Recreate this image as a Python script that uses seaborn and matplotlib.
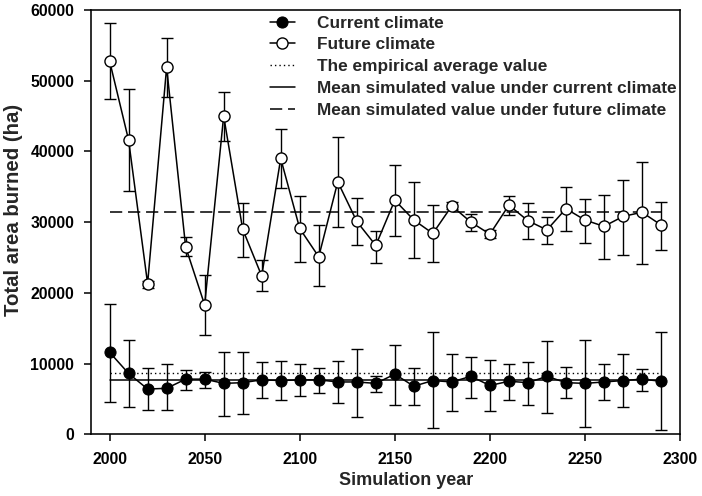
import numpy as np
import pandas as pd
import matplotlib
matplotlib.use("Agg")
import matplotlib.pyplot as plt
import seaborn as sns

years = list(range(2000, 2300, 10))

future_mean = [52800, 41600, 21300, 51900, 26500, 18300, 45000, 29000, 22400, 39000,
               29100, 25100, 35700, 30100, 26700, 33100, 30300, 28400, 32300, 30000,
               28300, 32400, 30200, 28900, 31900, 30300, 29400, 30800, 31400, 29600]
future_upper = [58200, 48800, 21700, 56000, 27900, 22500, 48400, 32700, 24700, 43100,
                33700, 29600, 42000, 33400, 28800, 38100, 35700, 32400, 32900, 31200,
                28900, 33700, 32700, 30700, 34900, 33300, 33900, 36000, 38500, 32900]
future_lower = [47400, 34400, 20700, 47700, 25200, 14000, 41500, 25000, 20300, 34800,
                24400, 20900, 29300, 26700, 24200, 28100, 24900, 24400, 31800, 28800,
                27700, 31000, 27600, 26900, 28700, 27100, 24800, 25400, 24100, 26100]

current_mean = [11600, 8600, 6400, 6500, 7800, 7800, 7200, 7300, 7700, 7600,
                7700, 7700, 7400, 7400, 7200, 8500, 6800, 7600, 7400, 8200,
                6900, 7500, 7300, 8200, 7300, 7200, 7400, 7600, 7800, 7500]
current_upper = [18400, 13300, 9400, 9900, 9100, 8800, 11700, 11600, 10200, 10300,
                 9900, 9400, 10400, 12100, 8300, 12600, 9400, 14400, 11400, 11000,
                 10500, 10000, 10200, 13200, 9500, 13300, 10000, 11400, 9200, 14400]
current_lower = [4600, 3900, 3400, 3400, 6300, 6500, 2600, 2900, 5100, 4800,
                 5400, 5900, 4400, 2500, 6000, 4100, 4200, 850, 3300, 5200,
                 3300, 4900, 4200, 3000, 5100, 1100, 4800, 3900, 6100, 600]

empirical_avg = 8730
mean_current = 7640
mean_future = 31450

labels = ["Current climate", "Future climate", "The empirical average value",
          "Mean simulated value under current climate",
          "Mean simulated value under future climate"]

sns.set_style("ticks")
plt.rcParams['font.family'] = ['Liberation Sans', 'DejaVu Sans']
plt.rcParams['font.weight'] = 'bold'

fig = plt.figure(figsize=(7.02, 4.96), dpi=100)
ax = fig.add_axes([0.129, 0.1244, 0.8397, 0.8555])

df_f = pd.DataFrame({"year": years, "val": future_mean})
df_c = pd.DataFrame({"year": years, "val": current_mean})

yr = np.array(years)
fm = np.array(future_mean); cm = np.array(current_mean)
ax.errorbar(yr, fm, yerr=[fm - np.array(future_lower), np.array(future_upper) - fm],
            fmt='none', ecolor='black', elinewidth=1.0, capsize=4.6, capthick=1.0, zorder=1)
ax.errorbar(yr, cm, yerr=[cm - np.array(current_lower), np.array(current_upper) - cm],
            fmt='none', ecolor='black', elinewidth=1.0, capsize=4.6, capthick=1.0, zorder=1)

ax.plot([years[0], years[-1]], [empirical_avg, empirical_avg], color='black', ls=(0, (1, 2.2)),
        lw=1, label=labels[2], zorder=2)
ax.plot([years[0], years[-1]], [mean_current, mean_current], color='black', ls='-',
        lw=1.1, label=labels[3], zorder=2)
ax.plot([years[0], years[-1]], [mean_future, mean_future], color='black', ls=(0, (8, 3.8)),
        lw=1.1, label=labels[4], zorder=2)

sns.lineplot(data=df_c, x="year", y="val", ax=ax, color='black', marker='o',
             markersize=8, markerfacecolor='black', markeredgecolor='black',
             lw=1.1, label=labels[0], zorder=3)
sns.lineplot(data=df_f, x="year", y="val", ax=ax, color='black', marker='o',
             markersize=8, markerfacecolor='white', markeredgecolor='black',
             markeredgewidth=1.0, lw=1.1, label=labels[1], zorder=3)

ax.set_xlim(1990, 2300)
ax.set_ylim(0, 60000)
ax.set_xticks(range(2000, 2301, 50))
ax.set_yticks(range(0, 60001, 10000))
ax.tick_params(direction='out', length=5.2, width=1.1, labelsize=11.3, colors='black')
ax.tick_params(axis='x', pad=7.5)
ax.tick_params(axis='y', pad=6.5)
for t in ax.get_xticklabels() + ax.get_yticklabels():
    t.set_fontweight('bold')
ax.set_xlabel("Simulation year", fontsize=13, fontweight='bold')
ax.set_ylabel("Total area burned (ha)", fontsize=14.7, fontweight='bold')
ax.xaxis.set_label_coords(0.535, -0.090)
ax.yaxis.set_label_coords(-0.115, 0.529)
for s in ax.spines.values():
    s.set_linewidth(1.15)
    s.set_color('black')

h, l = ax.get_legend_handles_labels()
order = [l.index(x) for x in labels]
leg = ax.legend([h[i] for i in order], [l[i] for i in order], loc='upper left',
                bbox_to_anchor=(270 / 702, 1 - 15.5 / 496), bbox_transform=fig.transFigure,
                frameon=False, borderpad=0, borderaxespad=0,
                handlelength=1.45, handletextpad=1.3, labelspacing=0.39,
                prop={'weight': 'bold', 'size': 12.4})

fig.savefig("out.png", dpi=100)
